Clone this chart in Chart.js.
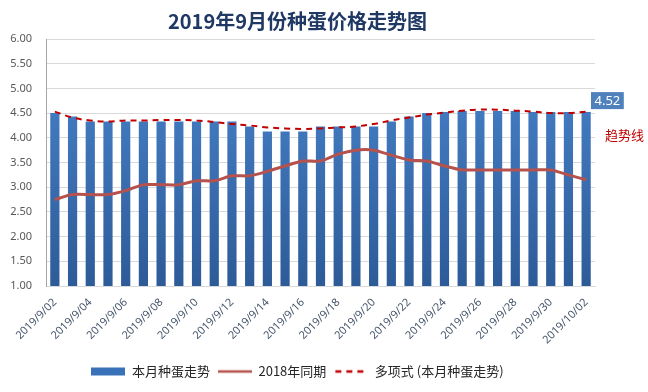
<!DOCTYPE html>
<html>
<head>
<meta charset="utf-8">
<script src="https://cdn.jsdelivr.net/npm/chart.js@4.4.1/dist/chart.umd.min.js"></script>
<style>
  html, body { margin: 0; padding: 0; background: #fff; }
</style>
</head>
<body>
<canvas id="eggChart" width="648" height="392"></canvas>
<script>
// dates on the x axis (one per day)
const dates = [
  '2019/9/02', '2019/9/03', '2019/9/04', '2019/9/05', '2019/9/06', '2019/9/07',
  '2019/9/08', '2019/9/09', '2019/9/10', '2019/9/11', '2019/9/12', '2019/9/13',
  '2019/9/14', '2019/9/15', '2019/9/16', '2019/9/17', '2019/9/18', '2019/9/19',
  '2019/9/20', '2019/9/21', '2019/9/22', '2019/9/23', '2019/9/24', '2019/9/25',
  '2019/9/26', '2019/9/27', '2019/9/28', '2019/9/29', '2019/9/30', '2019/10/01',
  '2019/10/02'
];

// 本月种蛋走势 (bars)
const price2019 = [
  4.50, 4.43, 4.33, 4.33, 4.33, 4.33, 4.33, 4.33, 4.33, 4.33, 4.33, 4.23,
  4.13, 4.13, 4.13, 4.23, 4.23, 4.23, 4.23, 4.33, 4.43, 4.50, 4.52, 4.54,
  4.54, 4.54, 4.54, 4.52, 4.52, 4.52, 4.52
];

// 2018年同期
const price2018 = [
  2.75, 2.85, 2.85, 2.85, 2.93, 3.05, 3.05, 3.05, 3.13, 3.13, 3.23, 3.23,
  3.32, 3.43, 3.53, 3.53, 3.67, 3.75, 3.75, 3.65, 3.55, 3.53, 3.43, 3.35,
  3.35, 3.35, 3.35, 3.35, 3.35, 3.25, 3.15
];

// 多项式 (本月种蛋走势) trend line
const trendLine = [
  4.53, 4.41, 4.35, 4.33, 4.35, 4.35, 4.36, 4.36, 4.35, 4.32, 4.28, 4.25,
  4.21, 4.19, 4.18, 4.19, 4.21, 4.23, 4.28, 4.35, 4.41, 4.47, 4.51, 4.55,
  4.57, 4.57, 4.55, 4.53, 4.50, 4.50, 4.53
];

// y axis range
const yMin = 1;
const yMax = 6;
const yStep = 0.5;

const seriesNames = ['本月种蛋走势', '2018年同期', '多项式 (本月种蛋走势)'];

// vertical gradient for the bars
function barGradient(context) {
  const area = context.chart.chartArea;
  if (!area) return '#3b74bd';
  const g = context.chart.ctx.createLinearGradient(0, area.top, 0, area.bottom);
  g.addColorStop(0, '#4a86cf');
  g.addColorStop(1, '#2d5b98');
  return g;
}

// small canvases used as legend markers (so the dashed line stays dashed)
function legendMarker(kind) {
  const c = document.createElement('canvas');
  c.width = 34;
  c.height = 10;
  const g = c.getContext('2d');
  if (kind === 0) {
    g.fillStyle = '#3a72ba';
    g.fillRect(0, 1, 34, 8);
  } else if (kind === 1) {
    g.strokeStyle = '#b5524e';
    g.lineWidth = 2.5;
    g.beginPath(); g.moveTo(0, 5); g.lineTo(34, 5); g.stroke();
  } else {
    g.strokeStyle = '#c00000';
    g.lineWidth = 2.5;
    g.setLineDash([6, 5]);
    g.beginPath(); g.moveTo(1, 5); g.lineTo(34, 5); g.stroke();
  }
  return c;
}
const markers = [legendMarker(0), legendMarker(1), legendMarker(2)];

// the "4.52" callout and the 趋势线 note on the right
const calloutPlugin = {
  id: 'callout',
  afterDatasetsDraw(chart) {
    const { ctx, chartArea, scales } = chart;
    const last = price2019[price2019.length - 1];
    const yPix = scales.y.getPixelForValue(last);
    const txt = last.toFixed(2);
    ctx.save();
    ctx.font = '13px "Noto Sans"';
    const w = ctx.measureText(txt).width + 7;
    const bx = chartArea.right - 4;
    const by = yPix - 20;
    ctx.fillStyle = '#4f81bd';
    ctx.fillRect(bx, by, w, 17);
    ctx.fillStyle = '#ffffff';
    ctx.textBaseline = 'middle';
    ctx.textAlign = 'left';
    ctx.fillText(txt, bx + 3.5, by + 9);
    ctx.fillStyle = '#c00000';
    ctx.font = '13px "Noto Sans CJK SC"';
    ctx.fillText('趋势线', chartArea.right + 10, yPix + 23);
    ctx.restore();
  }
};

const chartCanvas = document.querySelector('#eggChart');

const eggChart = new Chart(chartCanvas, {
  type: 'bar',
  data: {
    labels: dates,
    datasets: [
      {
        label: seriesNames[0],
        data: price2019,
        backgroundColor: barGradient,
        borderWidth: 0,
        barPercentage: 0.52,
        categoryPercentage: 1,
        order: 3
      },
      {
        type: 'line',
        label: seriesNames[1],
        data: price2018,
        borderColor: '#b5524e',
        backgroundColor: '#b5524e',
        borderWidth: 3,
        pointRadius: 0,
        tension: 0.25,
        order: 2
      },
      {
        type: 'line',
        label: seriesNames[2],
        data: trendLine,
        borderColor: '#c00000',
        backgroundColor: '#c00000',
        borderWidth: 2,
        borderDash: [6, 5],
        pointRadius: 0,
        tension: 0.4,
        order: 1
      }
    ]
  },
  options: {
    responsive: false,
    animation: false,
    layout: {
      padding: { left: 0, right: 53, top: 0, bottom: 4 }
    },
    plugins: {
      title: {
        display: true,
        text: '2019年9月份种蛋价格走势图',
        color: '#1f3864',
        font: { family: '"Noto Sans CJK SC"', size: 20, weight: 'bold' },
        padding: { top: 9, bottom: 6 }
      },
      legend: {
        position: 'bottom',
        labels: {
          usePointStyle: true,
          pointStyleWidth: 34,
          boxHeight: 8,
          color: '#262626',
          padding: 8,
          font: { family: '"Noto Sans CJK SC"', size: 13 },
          sort: (a, b) => a.datasetIndex - b.datasetIndex,
          generateLabels: function (chart) {
            const items = Chart.defaults.plugins.legend.labels.generateLabels(chart);
            items.forEach(function (item) {
              item.pointStyle = markers[item.datasetIndex];
            });
            return items;
          }
        }
      },
      tooltip: { enabled: false }
    },
    scales: {
      x: {
        grid: { display: false },
        border: { color: '#d9d9d9' },
        ticks: {
          color: '#44546a',
          font: { family: '"Noto Sans"', size: 11 },
          minRotation: 45,
          maxRotation: 45,
          autoSkip: false,
          padding: 2,
          callback: function (value, index) {
            return index % 2 === 0 ? dates[index] : '';
          }
        },
        afterFit: function (scale) { scale.height = 71; }
      },
      y: {
        min: yMin,
        max: yMax,
        grid: { color: '#d9d9d9', drawTicks: false },
        border: { display: true, color: '#a6a6a6' },
        ticks: {
          stepSize: yStep,
          color: '#595959',
          padding: 14,
          font: { family: '"Noto Sans"', size: 11 },
          callback: function (value) { return value.toFixed(2); }
        },
        afterFit: function (scale) { scale.width = 46; }
      }
    }
  },
  plugins: [calloutPlugin]
});
</script>
</body>
</html>
